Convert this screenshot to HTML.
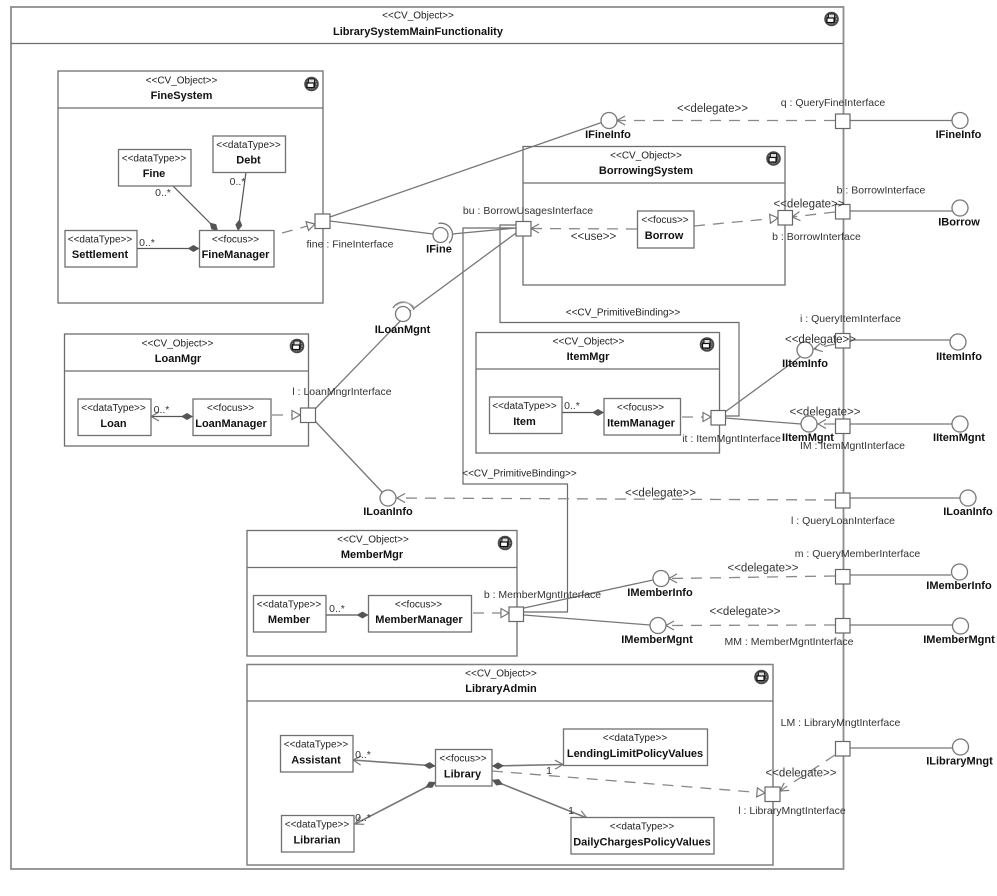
<!DOCTYPE html>
<html>
<head>
<meta charset="utf-8">
<style>
html,body{margin:0;padding:0;background:#fff;}
svg{display:block;filter:blur(0.3px);}
text{font-family:"Liberation Sans",sans-serif;text-anchor:middle;dominant-baseline:central;fill:#222;}
.s{font-size:10px;}
.n{font-size:11px;font-weight:bold;fill:#111;}
.p{font-size:10.5px;fill:#333;}
.d{font-size:11.5px;fill:#333;}
.m{font-size:10.5px;fill:#333;}
.c{fill:none;stroke:#6e6e6e;stroke-width:1.3;}
.o{fill:none;stroke:#8c8c8c;stroke-width:1.8;}
.b{fill:#fff;stroke:#707070;stroke-width:1.3;}
.pt{fill:#fff;stroke:#666;stroke-width:1.2;}
.i{fill:#fff;stroke:#777;stroke-width:1.3;}
.l{fill:none;stroke:#777;stroke-width:1.3;}
.g{fill:none;stroke:#6a6a6a;stroke-width:1.2;}
.a{fill:none;stroke:#777;stroke-width:1.3;}
.h{fill:none;stroke:#888;stroke-width:1.3;stroke-dasharray:11 8;}
.k{fill:none;stroke:#555;stroke-width:1.2;}
</style>
</head>
<body>
<svg width="997" height="896" viewBox="0 0 997 896" xmlns="http://www.w3.org/2000/svg">
<defs>
<marker id="dia" markerUnits="userSpaceOnUse" markerWidth="14" markerHeight="10" refX="13" refY="5" orient="auto"><path d="M1,5 L7,1.5 L13,5 L7,8.5 Z" fill="#555"/></marker>
<marker id="diaS" markerUnits="userSpaceOnUse" markerWidth="14" markerHeight="10" refX="1" refY="5" orient="auto"><path d="M1,5 L7,1.5 L13,5 L7,8.5 Z" fill="#555"/></marker>
<marker id="open" markerUnits="userSpaceOnUse" markerWidth="11" markerHeight="12" refX="10" refY="6" orient="auto"><path d="M2,1.5 L10,6 L2,10.5" fill="none" stroke="#777" stroke-width="1.2"/></marker>
<marker id="tri" markerUnits="userSpaceOnUse" markerWidth="11" markerHeight="12" refX="10" refY="6" orient="auto"><path d="M2,1.5 L10,6 L2,10.5 Z" fill="#fff" stroke="#777" stroke-width="1.2"/></marker>
<g id="ic">
<circle r="7.3" fill="#4a4a4a"/>
<circle r="5" fill="none" stroke="#999" stroke-width="1" stroke-dasharray="1 1"/>
<rect x="-3" y="-5" width="6" height="8" fill="#ddd" stroke="#222" stroke-width="1"/>
<rect x="-4.5" y="-1" width="7" height="4.5" fill="#fff" stroke="#111" stroke-width="1.2"/>
</g>
</defs>

<!-- outer -->
<rect class="o" x="11" y="7" width="832.5" height="862"/>
<line class="c" x1="11" y1="43.5" x2="843" y2="43.5"/>
<text class="s" x="418" y="16">&lt;&lt;CV_Object&gt;&gt;</text>
<text class="n" x="418" y="32">LibrarySystemMainFunctionality</text>
<use href="#ic" x="831.5" y="19"/>

<!-- component frames -->
<rect class="c" x="58" y="71" width="265" height="232"/>
<line class="c" x1="58" y1="108" x2="323" y2="108"/>
<text class="s" x="181.5" y="81">&lt;&lt;CV_Object&gt;&gt;</text>
<text class="n" x="181.5" y="96">FineSystem</text>
<use href="#ic" x="311.5" y="84"/>

<rect class="c" x="523" y="146.5" width="262" height="138.5"/>
<line class="c" x1="523" y1="183" x2="785" y2="183"/>
<text class="s" x="646" y="156">&lt;&lt;CV_Object&gt;&gt;</text>
<text class="n" x="646" y="171">BorrowingSystem</text>
<use href="#ic" x="773.5" y="158.5"/>

<rect class="c" x="476" y="332.5" width="243.5" height="120.5"/>
<line class="c" x1="476" y1="369" x2="719.5" y2="369"/>
<text class="s" x="588.5" y="342">&lt;&lt;CV_Object&gt;&gt;</text>
<text class="n" x="588" y="357">ItemMgr</text>
<use href="#ic" x="707" y="344.5"/>

<rect class="c" x="64.5" y="334" width="244" height="112"/>
<line class="c" x1="64.5" y1="371" x2="308.5" y2="371"/>
<text class="s" x="177.5" y="344">&lt;&lt;CV_Object&gt;&gt;</text>
<text class="n" x="178" y="359">LoanMgr</text>
<use href="#ic" x="297" y="346"/>

<rect class="c" x="247" y="530.5" width="270" height="125.5"/>
<line class="c" x1="247" y1="567.5" x2="517" y2="567.5"/>
<text class="s" x="373" y="540">&lt;&lt;CV_Object&gt;&gt;</text>
<text class="n" x="372" y="555">MemberMgr</text>
<use href="#ic" x="505" y="543"/>

<rect class="c" x="247" y="664.5" width="526" height="200.5" style="stroke:#808080;stroke-width:1.5"/>
<line class="c" x1="247" y1="701" x2="773" y2="701"/>
<text class="s" x="501" y="674">&lt;&lt;CV_Object&gt;&gt;</text>
<text class="n" x="501" y="689">LibraryAdmin</text>
<use href="#ic" x="761.5" y="677"/>

<!-- primitive bindings -->
<polyline class="g" points="516,225 500,225 500,322.5 739,322.5 739,416 725,416"/>
<polyline class="g" points="516,228 463,228 463,484 567.5,484 567.5,612 524,612"/>

<!-- assembly lines -->
<line class="l" x1="330" y1="217" x2="601.5" y2="122.5"/>
<line class="l" x1="330" y1="221" x2="433" y2="234"/>
<line class="l" x1="452" y1="234" x2="516" y2="228"/>
<line class="l" x1="516" y1="233" x2="413" y2="309"/>
<line class="l" x1="315" y1="409" x2="411" y2="310"/>
<line class="l" x1="315" y1="421" x2="382" y2="492"/>
<line class="l" x1="725" y1="412" x2="800" y2="357"/>
<line class="l" x1="725" y1="418" x2="801" y2="424"/>
<line class="l" x1="524" y1="608" x2="653" y2="580"/>
<line class="l" x1="524" y1="615" x2="650" y2="625"/>

<!-- composition -->
<line class="k" x1="173" y1="186" x2="218" y2="231" marker-end="url(#dia)"/>
<line class="k" x1="246" y1="172" x2="238" y2="231" marker-end="url(#dia)"/>
<line class="k" x1="137" y1="248.5" x2="199.5" y2="248.5" marker-end="url(#dia)"/>
<line class="k" x1="193" y1="416.5" x2="151" y2="416.5" marker-start="url(#diaS)" marker-end="url(#open)"/>
<line class="k" x1="326" y1="615" x2="368.5" y2="615" marker-end="url(#dia)"/>
<line class="k" x1="562" y1="412.5" x2="604" y2="412.5" marker-end="url(#dia)"/>
<line class="l" x1="435.5" y1="766" x2="353" y2="760" marker-start="url(#diaS)" marker-end="url(#open)" style="stroke-width:1.6"/>
<line class="l" x1="436" y1="782" x2="355" y2="824" marker-start="url(#diaS)" marker-end="url(#open)" style="stroke-width:1.6"/>
<line class="l" x1="492" y1="766" x2="563" y2="764.5" marker-start="url(#diaS)" marker-end="url(#open)" style="stroke-width:1.6"/>
<line class="l" x1="492" y1="780" x2="587" y2="818" marker-start="url(#diaS)" marker-end="url(#open)" style="stroke-width:1.6"/>

<!-- dashed inside -->
<line class="h" x1="282" y1="233" x2="315" y2="224" marker-end="url(#tri)"/>
<line class="h" x1="272" y1="415" x2="300" y2="415" marker-end="url(#tri)"/>
<line class="h" x1="473" y1="613" x2="509" y2="613" marker-end="url(#tri)"/>
<line class="h" x1="682" y1="417" x2="711" y2="417" marker-end="url(#tri)"/>
<line class="h" x1="694" y1="226" x2="778" y2="218" marker-end="url(#tri)"/>
<line class="h" x1="637" y1="229" x2="531" y2="228.5" marker-end="url(#open)"/>
<line class="h" x1="492" y1="771" x2="765" y2="793" marker-end="url(#tri)"/>

<!-- delegates -->
<line class="h" x1="835" y1="120.5" x2="617" y2="120.5" marker-end="url(#open)"/>
<line class="h" x1="835" y1="212" x2="792" y2="217" marker-end="url(#open)"/>
<line class="h" x1="835" y1="344" x2="814" y2="349" marker-end="url(#open)"/>
<line class="h" x1="835" y1="424" x2="818" y2="424" marker-end="url(#open)"/>
<line class="h" x1="835" y1="500" x2="397" y2="498" marker-end="url(#open)"/>
<line class="h" x1="835" y1="576" x2="669" y2="578.5" marker-end="url(#open)"/>
<line class="h" x1="835" y1="625" x2="666" y2="625.5" marker-end="url(#open)"/>
<line class="h" x1="835" y1="755" x2="780" y2="791" marker-end="url(#open)"/>

<!-- external lines -->
<line class="a" x1="850" y1="120.5" x2="952" y2="120.5"/>
<line class="a" x1="850" y1="211" x2="952" y2="211"/>
<line class="a" x1="850" y1="340" x2="950" y2="340"/>
<line class="a" x1="850" y1="424" x2="952" y2="424"/>
<line class="a" x1="850" y1="498" x2="960" y2="498"/>
<line class="a" x1="850" y1="575" x2="951" y2="575"/>
<line class="a" x1="850" y1="625" x2="952" y2="625"/>
<line class="a" x1="850" y1="748" x2="953" y2="748"/>

<!-- interface circles -->
<circle class="i" cx="609" cy="120.5" r="8"/>
<circle class="i" cx="960" cy="120.5" r="8"/>
<circle class="i" cx="960" cy="208" r="8"/>
<circle class="i" cx="958" cy="342" r="8"/>
<circle class="i" cx="960" cy="424" r="8"/>
<circle class="i" cx="968" cy="498" r="8"/>
<circle class="i" cx="959.5" cy="572" r="8"/>
<circle class="i" cx="960.5" cy="626" r="8"/>
<circle class="i" cx="960.5" cy="747" r="8"/>
<circle class="i" cx="805" cy="350" r="8"/>
<circle class="i" cx="809" cy="424" r="8"/>
<circle class="i" cx="388" cy="498" r="8"/>
<circle class="i" cx="661" cy="578.5" r="8"/>
<circle class="i" cx="658" cy="625.5" r="8"/>
<circle class="i" cx="440.5" cy="235" r="7.5"/>
<path class="l" d="M438.5,223.5 A11.5,11.5 0 0 1 449,243"/>
<circle class="i" cx="403" cy="314" r="7.5"/>
<path class="l" d="M393,308 A11.5,11.5 0 0 1 414,310"/>
<path class="l" d="M396,305.5 A13,13 0 0 1 414,307" style="stroke:#aaa;stroke-width:1"/>

<!-- classes -->
<rect class="b" x="118.5" y="149.5" width="72.5" height="36.5"/>
<text class="s" x="154" y="159">&lt;&lt;dataType&gt;&gt;</text><text class="n" x="154" y="174">Fine</text>
<rect class="b" x="213" y="136" width="72.5" height="36.5"/>
<text class="s" x="248.5" y="145.5">&lt;&lt;dataType&gt;&gt;</text><text class="n" x="248.5" y="160.5">Debt</text>
<rect class="b" x="65" y="230.5" width="72" height="36.5"/>
<text class="s" x="100" y="240">&lt;&lt;dataType&gt;&gt;</text><text class="n" x="100" y="255">Settlement</text>
<rect class="b" x="199.5" y="230.5" width="74.5" height="36.5"/>
<text class="s" x="235.5" y="240">&lt;&lt;focus&gt;&gt;</text><text class="n" x="235.5" y="255">FineManager</text>

<rect class="b" x="637.5" y="211" width="56.5" height="37"/>
<text class="s" x="665" y="220.5">&lt;&lt;focus&gt;&gt;</text><text class="n" x="664" y="236">Borrow</text>

<rect class="b" x="489.5" y="397" width="72.5" height="36.5"/>
<text class="s" x="524.5" y="406.5">&lt;&lt;dataType&gt;&gt;</text><text class="n" x="524.5" y="422">Item</text>
<rect class="b" x="604" y="398.5" width="76.5" height="36.5"/>
<text class="s" x="640.5" y="408">&lt;&lt;focus&gt;&gt;</text><text class="n" x="641" y="423.5">ItemManager</text>

<rect class="b" x="78" y="399" width="73" height="36.5"/>
<text class="s" x="113.5" y="408.5">&lt;&lt;dataType&gt;&gt;</text><text class="n" x="113.5" y="424">Loan</text>
<rect class="b" x="193" y="399" width="78" height="36.5"/>
<text class="s" x="230.5" y="408.5">&lt;&lt;focus&gt;&gt;</text><text class="n" x="231" y="424">LoanManager</text>

<rect class="b" x="253.5" y="595.5" width="72.5" height="36.5"/>
<text class="s" x="289" y="605">&lt;&lt;dataType&gt;&gt;</text><text class="n" x="289" y="620">Member</text>
<rect class="b" x="368.5" y="595.5" width="103" height="36.5"/>
<text class="s" x="418.5" y="605">&lt;&lt;focus&gt;&gt;</text><text class="n" x="419" y="620">MemberManager</text>

<rect class="b" x="280.5" y="735.5" width="72.5" height="36.5"/>
<text class="s" x="316" y="745">&lt;&lt;dataType&gt;&gt;</text><text class="n" x="316" y="760.5">Assistant</text>
<rect class="b" x="435.5" y="749.5" width="56.5" height="36.5"/>
<text class="s" x="463" y="759">&lt;&lt;focus&gt;&gt;</text><text class="n" x="462.5" y="774.5">Library</text>
<rect class="b" x="563.5" y="729" width="144" height="36.5"/>
<text class="s" x="635" y="738.5">&lt;&lt;dataType&gt;&gt;</text><text class="n" x="635" y="754">LendingLimitPolicyValues</text>
<rect class="b" x="281.5" y="815.5" width="72.5" height="36.5"/>
<text class="s" x="317" y="825">&lt;&lt;dataType&gt;&gt;</text><text class="n" x="317" y="840.5">Librarian</text>
<rect class="b" x="571" y="817.5" width="143" height="36.5"/>
<text class="s" x="642" y="827">&lt;&lt;dataType&gt;&gt;</text><text class="n" x="642" y="842.5">DailyChargesPolicyValues</text>

<!-- ports -->
<rect class="pt" x="315" y="214" width="15" height="14.5"/>
<rect class="pt" x="516" y="221.5" width="15" height="14.5"/>
<rect class="pt" x="778" y="210.5" width="14.5" height="14.5"/>
<rect class="pt" x="835.5" y="114" width="14.5" height="14.5"/>
<rect class="pt" x="835.5" y="204.5" width="14.5" height="14.5"/>
<rect class="pt" x="835.5" y="333.5" width="14.5" height="14.5"/>
<rect class="pt" x="835.5" y="419" width="14.5" height="14.5"/>
<rect class="pt" x="835.5" y="493" width="14.5" height="15"/>
<rect class="pt" x="835.5" y="569.5" width="14.5" height="14.5"/>
<rect class="pt" x="835.5" y="618.5" width="14.5" height="14.5"/>
<rect class="pt" x="835.5" y="741.5" width="14.5" height="14.5"/>
<rect class="pt" x="711" y="410.5" width="14.5" height="14.5"/>
<rect class="pt" x="300.5" y="408" width="15" height="14.5"/>
<rect class="pt" x="509" y="607" width="14.5" height="14.5"/>
<rect class="pt" x="765" y="787" width="15" height="14.5"/>

<!-- multiplicities -->
<text class="m" x="163" y="193">0..*</text>
<text class="m" x="237.5" y="182">0..*</text>
<text class="m" x="147" y="243">0..*</text>
<text class="m" x="161.5" y="410">0..*</text>
<text class="m" x="337" y="609">0..*</text>
<text class="m" x="572" y="406">0..*</text>
<text class="m" x="363" y="755">0..*</text>
<text class="m" x="363" y="818">0..*</text>
<text class="m" x="549" y="771">1</text>
<text class="m" x="571" y="811">1</text>

<!-- port labels -->
<text class="p" x="350" y="244.5">fine : FineInterface</text>
<text class="p" x="528" y="211">bu : BorrowUsagesInterface</text>
<text class="p" x="833" y="103">q : QueryFineInterface</text>
<text class="p" x="881" y="190.5">b : BorrowInterface</text>
<text class="p" x="816.5" y="237">b : BorrowInterface</text>
<text class="p" x="850.5" y="319">i : QueryItemInterface</text>
<text class="p" x="731.5" y="439">it : ItemMgntInterface</text>
<text class="p" x="852.5" y="446">IM : ItemMgntInterface</text>
<text class="p" x="342" y="392">l : LoanMngrInterface</text>
<text class="p" x="843" y="521">l : QueryLoanInterface</text>
<text class="p" x="857.5" y="554">m : QueryMemberInterface</text>
<text class="p" x="542.5" y="595">b : MemberMgntInterface</text>
<text class="p" x="789" y="642">MM : MemberMgntInterface</text>
<text class="p" x="840.5" y="723">LM : LibraryMngtInterface</text>
<text class="p" x="792" y="811">l : LibraryMngtInterface</text>

<!-- stereotypes on connectors -->
<text class="d" x="712.5" y="109">&lt;&lt;delegate&gt;&gt;</text>
<text class="d" x="809" y="204.5">&lt;&lt;delegate&gt;&gt;</text>
<text class="d" x="820.5" y="340">&lt;&lt;delegate&gt;&gt;</text>
<text class="d" x="825" y="412.5">&lt;&lt;delegate&gt;&gt;</text>
<text class="d" x="660.5" y="493.5">&lt;&lt;delegate&gt;&gt;</text>
<text class="d" x="763" y="568.5">&lt;&lt;delegate&gt;&gt;</text>
<text class="d" x="745" y="612">&lt;&lt;delegate&gt;&gt;</text>
<text class="d" x="801" y="773.5">&lt;&lt;delegate&gt;&gt;</text>
<text class="d" x="593.5" y="237">&lt;&lt;use&gt;&gt;</text>
<text class="s" x="623" y="313">&lt;&lt;CV_PrimitiveBinding&gt;&gt;</text>
<text class="s" x="519.5" y="474">&lt;&lt;CV_PrimitiveBinding&gt;&gt;</text>

<!-- interface labels -->
<text class="n" x="608" y="135">IFineInfo</text>
<text class="n" x="958.5" y="135">IFineInfo</text>
<text class="n" x="439" y="249.5">IFine</text>
<text class="n" x="959" y="222.5">IBorrow</text>
<text class="n" x="402.5" y="330">ILoanMgnt</text>
<text class="n" x="805" y="364">IItemInfo</text>
<text class="n" x="959" y="357">IItemInfo</text>
<text class="n" x="808" y="438">IItemMgnt</text>
<text class="n" x="959" y="438">IItemMgnt</text>
<text class="n" x="388" y="512">ILoanInfo</text>
<text class="n" x="968" y="512">ILoanInfo</text>
<text class="n" x="660" y="593">IMemberInfo</text>
<text class="n" x="959" y="586">IMemberInfo</text>
<text class="n" x="657" y="640">IMemberMgnt</text>
<text class="n" x="959" y="640">IMemberMgnt</text>
<text class="n" x="959.5" y="761.5">ILibraryMngt</text>
</svg>
</body>
</html>
